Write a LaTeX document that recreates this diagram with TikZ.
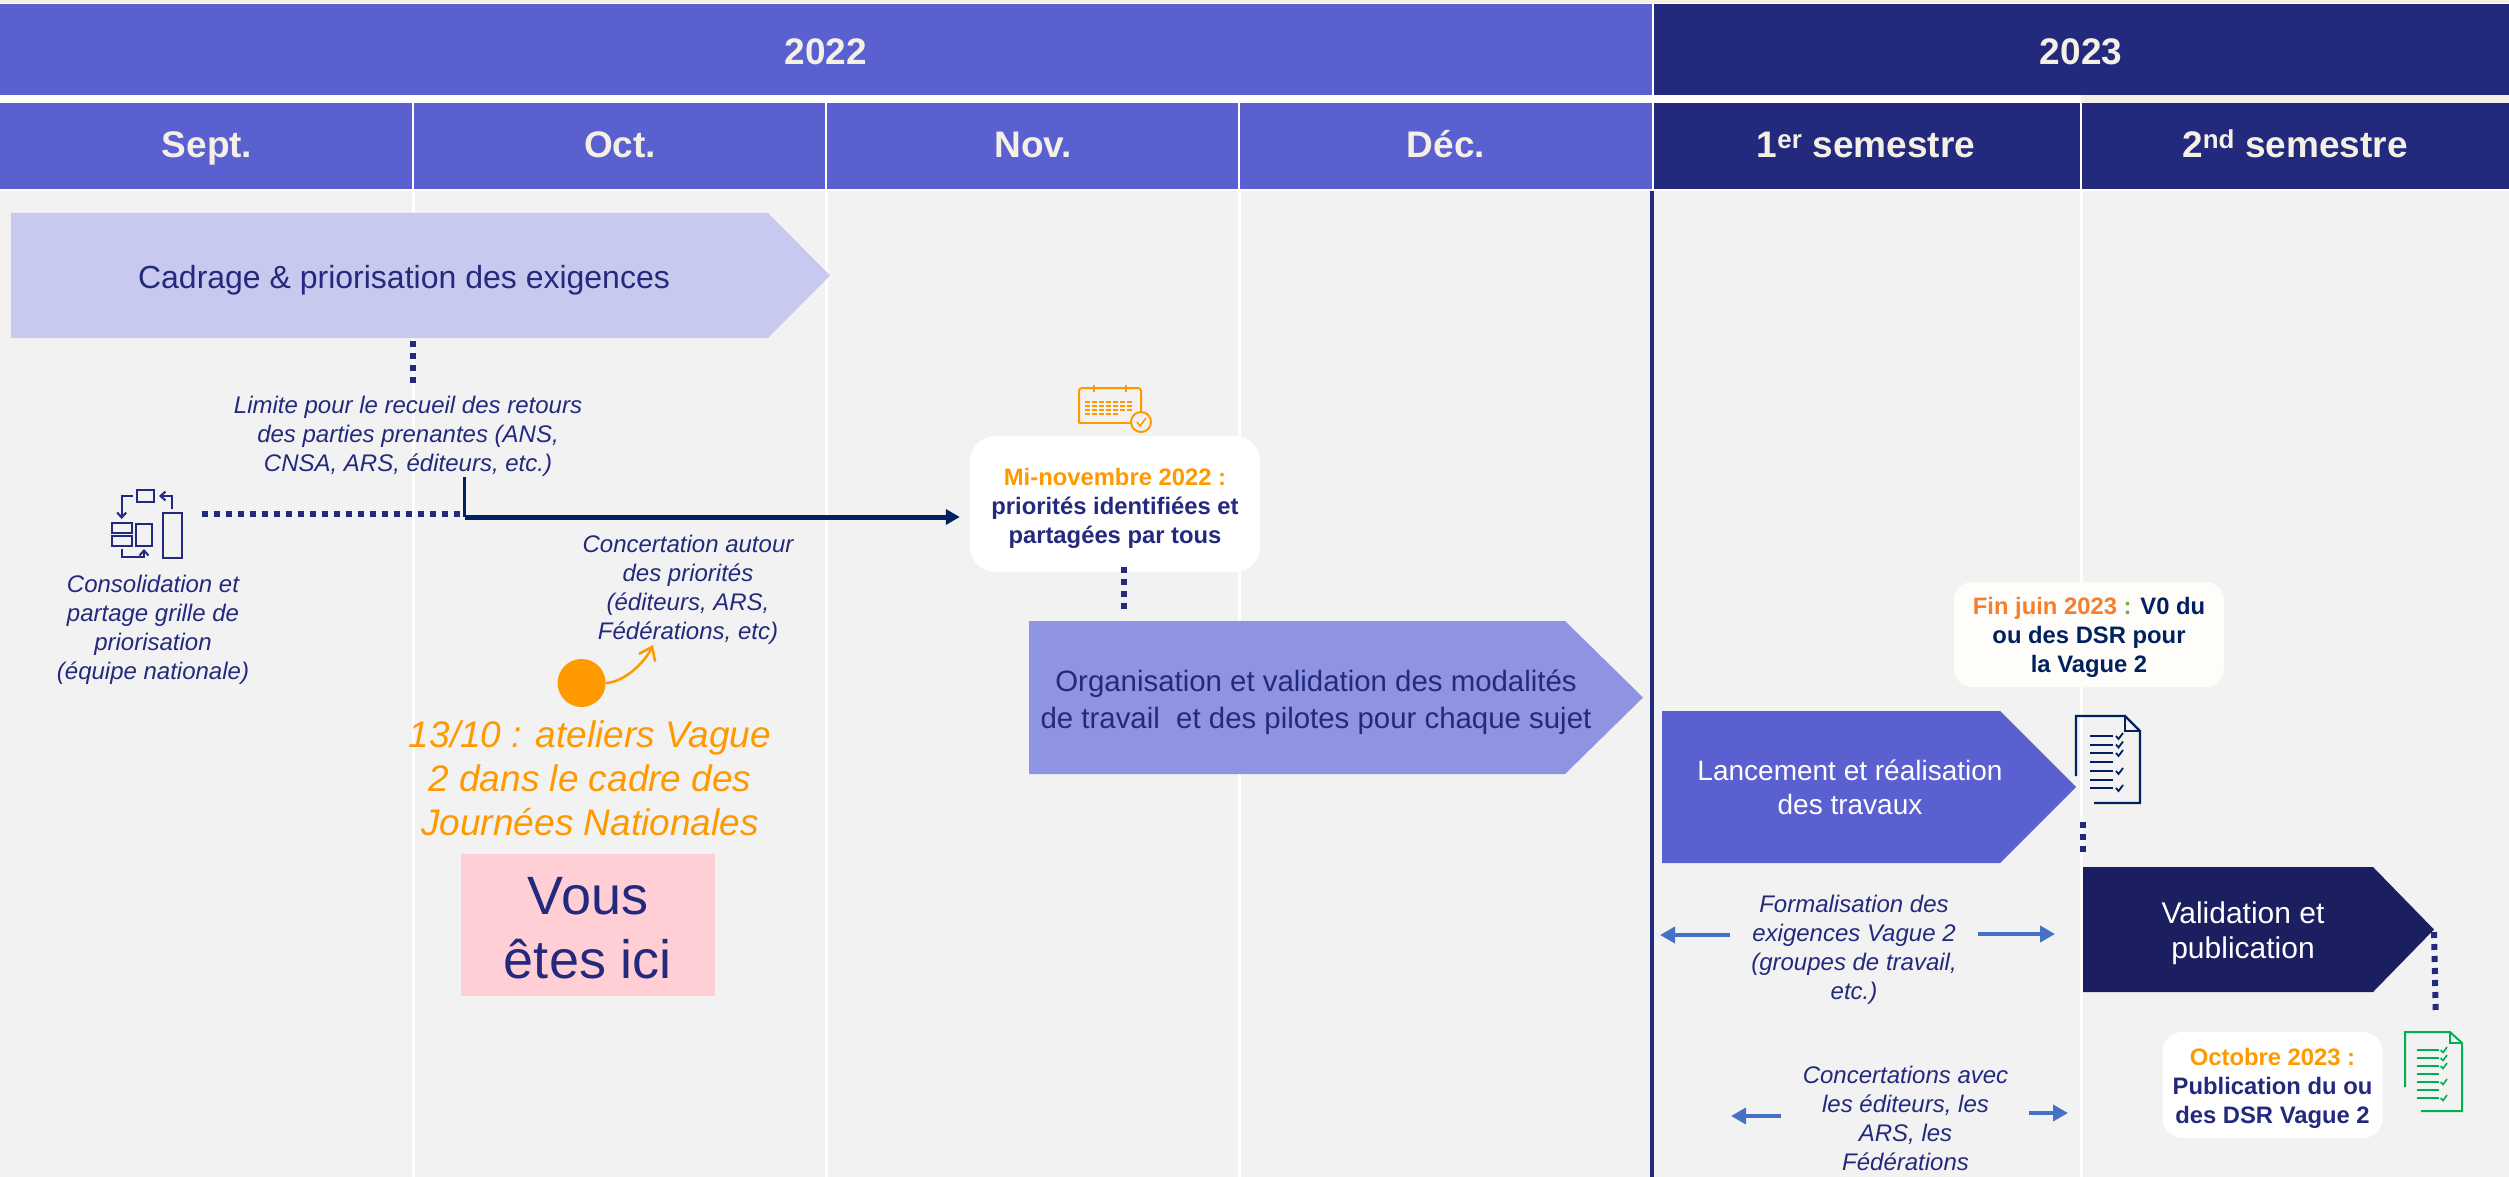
\documentclass[tikz,border=0pt]{standalone}
\usepackage{fontspec}
\setmainfont{Liberation Sans}
\usetikzlibrary{arrows.meta}
\definecolor{bluehead}{HTML}{5A60D0}
\definecolor{navyhead}{HTML}{232A7E}
\definecolor{creamtxt}{HTML}{F5F0E6}
\definecolor{bodybg}{HTML}{F2F2F2}
\definecolor{chevA}{HTML}{C7CAEE}
\definecolor{chevB}{HTML}{8E93E2}
\definecolor{chevD}{HTML}{1B1F60}
\definecolor{darkblue}{HTML}{002060}
\definecolor{orangeA}{HTML}{FF9900}
\definecolor{orangeB}{HTML}{F47F30}
\definecolor{greenA}{HTML}{70AD47}
\definecolor{greenB}{HTML}{00B050}
\definecolor{arrowblue}{HTML}{4472C4}
\definecolor{pinkbox}{HTML}{FFCFD5}
\definecolor{creambox}{HTML}{FEFDF9}
\tikzset{
  headtxt/.style={text=creamtxt,font=\bfseries\fontsize{37}{42}\selectfont,inner sep=0pt,anchor=base},
  gridline/.style={draw=white,line width=3pt},
  chevtxt/.style={align=center,inner sep=0pt},
  note/.style={align=center,inner sep=0pt,text=navyhead,font=\itshape\fontsize{24}{29}\selectfont},
  callout/.style={align=center,inner sep=0pt,font=\bfseries\fontsize{23.8}{29}\selectfont},
  dotline/.style={draw=navyhead,line width=6pt,dash pattern=on 6pt off 6pt},
  iconline/.style={draw=navyhead,line width=2pt},
  tinyarrow/.style={iconline,-{Straight Barb[length=5pt,width=9pt]}},
  bluearrow/.style={draw=arrowblue,line width=4.5pt,-{Triangle[length=15pt,width=16pt]}},
}
\newcommand{\chevshape}[6]{\fill[#6] (#1,#2) -- (#4,#2) -- (#3,{(#2+#5)/2}) -- (#4,#5) -- (#1,#5) -- cycle;}
\begin{document}
\begin{tikzpicture}[x=1pt,y=-1pt]
\useasboundingbox (0,0) rectangle (2509,1177);
\fill[white] (0,0) rectangle (2509,1177);
\fill[creamtxt] (0,0) rectangle (2509,3);
\fill[creamtxt] (2081,95) rectangle (2509,103);
% headers
\fill[bluehead] (0,4) rectangle (1652,95);
\fill[navyhead] (1654,4) rectangle (2509,95);
\fill[bluehead] (0,103) rectangle (412,189);
\fill[bluehead] (414,103) rectangle (825,189);
\fill[bluehead] (827,103) rectangle (1238,189);
\fill[bluehead] (1240,103) rectangle (1652,189);
\fill[navyhead] (1654,103) rectangle (2080,189);
\fill[navyhead] (2082,103) rectangle (2509,189);
\node[headtxt] (y22) at (826,65) {2022};
\node[headtxt] (y23) at (2081,65) {2023};
\node[headtxt] (m1) at (207,158) {Sept.};
\node[headtxt] (m2) at (620,158) {Oct.};
\node[headtxt] (m3) at (1033,158) {Nov.};
\node[headtxt] (m4) at (1446,158) {Déc.};
\node[headtxt] (s1) at (1866,158) {1\textsuperscript{er} semestre};
\node[headtxt] (s2) at (2295,158) {2\textsuperscript{nd} semestre};
% body
\fill[bodybg] (0,191) rectangle (2509,1177);
\foreach \gx in {413,826,1239,2081} \draw[gridline] (\gx,191) -- (\gx,1177);
\draw[navyhead,line width=3.5pt] (1652,191) -- (1652,1177);
% chevrons
\chevshape{11}{213}{830}{768}{338}{chevA}
\node[chevtxt,text=navyhead,font=\fontsize{32}{38}\selectfont] (c1) at (404,280) {Cadrage \& priorisation des exigences};
\chevshape{1029}{621}{1643}{1565}{774}{chevB}
\node[chevtxt,text=navyhead,font=\fontsize{29.4}{37}\selectfont] (c2) at (1316,702) {Organisation et validation des modalités\\de travail\ \ et des pilotes pour chaque sujet};
\chevshape{1662}{711}{2076}{2000}{863}{bluehead}
\node[chevtxt,text=white,font=\fontsize{28}{34}\selectfont] (c3) at (1850,787) {Lancement et réalisation\\des travaux};
\chevshape{2083}{867}{2434}{2373}{992}{chevD}
\node[chevtxt,text=white,font=\fontsize{30}{35}\selectfont] (c4) at (2243,933) {Validation et\\publication};
% dotted links
\coordinate (d1a) at (413,341); \coordinate (d1b) at (413,383);
\draw[dotline] (d1a) -- (d1b);
\coordinate (d2a) at (202,514); \coordinate (d2b) at (463,514);
\draw[dotline] (d2a) -- (d2b);
% notes
\node[note] (n1) at (408,436) {Limite pour le recueil des retours\\des parties prenantes (ANS,\\CNSA, ARS, éditeurs, etc.)};
\node[note] (n2) at (153,630) {Consolidation et\\partage grille de\\priorisation\\(équipe nationale)};
\node[note] (n3) at (688,590) {Concertation autour\\des priorités\\(éditeurs, ARS,\\Fédérations, etc)};
\node[note] (n4) at (1854,950) {Formalisation des\\exigences Vague 2\\(groupes de travail,\\etc.)};
\node[note] (n5) at (1905.5,1118) {Concertations avec\\les éditeurs, les\\ARS, les\\Fédérations};
% callouts
\node[fill=white,rounded corners=25pt,minimum width=290pt,minimum height=136pt,inner sep=0pt] (b1) at (1115,504) {};
\node[callout,text=navyhead] (t1) at (1115,508) {\textcolor{orangeA}{Mi-novembre 2022 :}\\priorités identifiées et\\partagées par tous};
\node[fill=creambox,rounded corners=18pt,minimum width=270pt,minimum height=105pt,inner sep=0pt] (b2) at (2089,634.5) {};
\node[callout,text=darkblue] (t2) at (2089,637) {\textcolor{orangeB}{Fin juin 2023} \textcolor{greenA}{:} V0 du\\ou des DSR pour\\la Vague 2};
\node[fill=white,rounded corners=20pt,minimum width=220pt,minimum height=106pt,inner sep=0pt] (b3) at (2272.5,1085) {};
\node[callout,text=navyhead] (t3) at (2272.5,1088) {\textcolor{orangeA}{Octobre 2023 :}\\Publication du ou\\des DSR Vague 2};
% solid connector
\coordinate (j1) at (464.5,477); \coordinate (j2) at (464.5,517);
\draw[darkblue,line width=3.5pt] (j1) -- (j2);
\draw[darkblue,line width=5pt,shorten >=10pt,-{Triangle[length=14pt,width=15pt]}] (j2) -- (b1.west |- j2);
% other dotted links
\coordinate (d3a) at (1123.7,567); \coordinate (d3b) at (1123.7,609);
\draw[dotline] (d3a) -- (d3b);
\coordinate (d4a) at (2083,822); \coordinate (d4b) at (2083,858);
\draw[dotline] (d4a) -- (d4b);
\coordinate (d5a) at (2434,932); \coordinate (d5b) at (2435.7,1011);
\draw[dotline] (d5a) -- (d5b);
% orange event
\node[circle,fill=orangeA,minimum size=48pt,inner sep=0pt] (ev) at (581.6,683) {};
\draw[orangeA,line width=2.5pt,-{Straight Barb[length=12pt,width=18pt]}] (ev.east) .. controls (625,682) and (645,662) .. (653,645);
\node[align=center,inner sep=0pt,text=orangeA,font=\itshape\fontsize{37}{44}\selectfont] (ev2) at (590,778) {13/10 : ateliers Vague\\2 dans le cadre des\\Journées Nationales};
\node[fill=pinkbox,minimum width=254pt,minimum height=142pt,inner sep=0pt] (icibox) at (588,925) {};
\node[inner sep=0pt,align=center,text=navyhead,font=\fontsize{54}{64}\selectfont] (ici) at (588,928) {Vous\\êtes ici};
% blue arrows
\coordinate (a1s) at (1730,935); \coordinate (a1e) at (1660,935);
\draw[bluearrow] (a1s) -- (a1e);
\coordinate (a2s) at (1978,934); \coordinate (a2e) at (2055,934);
\draw[bluearrow] (a2s) -- (a2e);
\coordinate (a3s) at (1781,1116); \coordinate (a3e) at (1731,1116);
\draw[bluearrow] (a3s) -- (a3e);
\coordinate (a4s) at (2029,1113); \coordinate (a4e) at (2068,1113);
\draw[bluearrow] (a4s) -- (a4e);
% process icon
\draw[iconline] (137,490) rectangle (154,502);
\draw[iconline] (112,523) rectangle (132,533);
\draw[iconline] (112,536) rectangle (132,546);
\draw[iconline] (136,524) rectangle (152,546);
\draw[iconline] (163,513) rectangle (182,558);
\draw[tinyarrow] (133,496) -- (121.7,496) -- (121.7,519);
\draw[tinyarrow] (122,549) -- (122,557) -- (144,557) -- (144,549);
\draw[tinyarrow] (172,509) -- (172,496) -- (159,496);
% calendar icon
\draw[orangeA,line width=2pt,rounded corners=3pt] (1079,423) -- (1079,388) -- (1141,388) -- (1141,412);
\draw[orangeA,line width=2pt] (1079,423) -- (1131,423);
\draw[orangeA,line width=2pt] (1093.7,385) -- (1093.7,392);
\draw[orangeA,line width=2pt] (1125.7,385) -- (1125.7,392);
\foreach \cy in {402,406,410} \draw[orangeA,line width=1.5pt,dash pattern=on 5pt off 2pt] (1085,\cy) -- (1134,\cy);
\draw[orangeA,line width=1.5pt,dash pattern=on 5pt off 2pt] (1085,414) -- (1120,414);
\draw[orangeA,line width=2pt] (1141,422) circle (10pt);
\draw[orangeA,line width=1.5pt] (1137,422) -- (1140,426) -- (1146,418);
% document icon, dark
\draw[darkblue,line width=2.4pt] (2076,776) -- (2076,716) -- (2125,716) -- (2140,731) -- (2140,803) -- (2094,803);
\draw[darkblue,line width=2.4pt] (2125,716) -- (2125,731) -- (2140,731);
\foreach \ly in {736,744.5,753,762,771,780,788} \draw[darkblue,line width=2pt] (2090,\ly) -- (2113,\ly);
\foreach \ly in {736,744.5,753,771,788} \draw[darkblue,line width=1.8pt] (2116,\ly) -- (2118.5,\ly+3) -- (2123,\ly-3);
% document icon, green
\draw[greenB,line width=2pt] (2405,1087) -- (2405,1032) -- (2450,1032) -- (2462,1043) -- (2462,1111) -- (2421,1111);
\draw[greenB,line width=2pt] (2450,1032) -- (2450,1043) -- (2462,1043);
\foreach \ly in {1050,1058,1066,1074,1082,1090,1098} \draw[greenB,line width=2pt] (2417,\ly) -- (2439,\ly);
\foreach \ly in {1050,1058,1066,1082,1098} \draw[greenB,line width=1.6pt] (2440.5,\ly) -- (2443,\ly+2.5) -- (2447,\ly-3);
\end{tikzpicture}
\end{document}
